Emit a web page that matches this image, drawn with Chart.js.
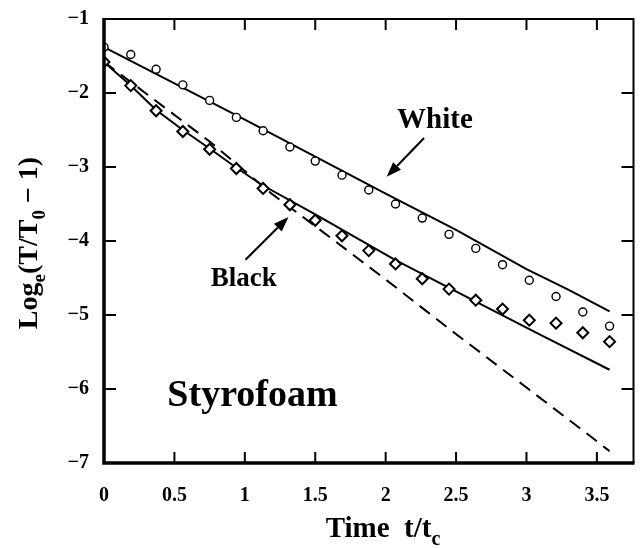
<!DOCTYPE html>
<html>
<head>
<meta charset="utf-8">
<script src="https://cdn.jsdelivr.net/npm/chart.js@4.4.1/dist/chart.umd.min.js"></script>
<style>
  html, body { margin: 0; padding: 0; background: #fff; }
  canvas { display: block; }
</style>
</head>
<body>
<canvas id="chart" width="641" height="548"></canvas>
<script>
// measured time points t/tc
const obsTime = [0, 0.19, 0.37, 0.56, 0.75, 0.94, 1.13, 1.32, 1.50, 1.69, 1.88, 2.07, 2.26, 2.45, 2.64, 2.83, 3.02, 3.21, 3.40, 3.59];
const whiteObs = [-1.38, -1.48, -1.68, -1.89, -2.10, -2.33, -2.51, -2.73, -2.92, -3.11, -3.31, -3.50, -3.69, -3.91, -4.10, -4.32, -4.53, -4.75, -4.96, -5.15];
const blackObs = [-1.58, -1.90, -2.24, -2.52, -2.76, -3.02, -3.29, -3.51, -3.72, -3.93, -4.13, -4.31, -4.51, -4.65, -4.80, -4.92, -5.07, -5.11, -5.24, -5.36];

// model curves
const whiteFitT = [0, 0.5, 1.0, 1.5, 2.0, 2.5, 3.0, 3.3, 3.59];
const whiteFitY = [-1.38, -1.87, -2.36, -2.86, -3.36, -3.85, -4.38, -4.66, -4.95];
const blackFitT = [0, 0.1, 0.19, 0.37, 0.56, 0.75, 0.94, 1.12, 1.5, 2.07, 2.64, 3.1, 3.59];
const blackFitY = [-1.58, -1.75, -1.90, -2.23, -2.50, -2.75, -3.01, -3.24, -3.64, -4.26, -4.82, -5.27, -5.74];
const dashT = [0, 0.35, 0.76, 1.19, 1.5, 2.0, 2.46, 3.0, 3.4, 3.59];
const dashY = [-1.58, -2.08, -2.67, -3.36, -3.80, -4.52, -5.20, -5.98, -6.56, -6.84];

const xTicks = [0, 0.5, 1, 1.5, 2, 2.5, 3, 3.5];
const yTicks = [-7, -6, -5, -4, -3, -2, -1];

const FONT = "'Liberation Serif', 'Times New Roman', serif";

const pts = (xs, ys) => xs.map((x, i) => ({x: x, y: ys[i]}));

function drawArrow(ctx, x1, y1, x2, y2) {
    const ang = Math.atan2(y2 - y1, x2 - x1);
    const hl = 15, hw = 5.5;
    ctx.beginPath();
    ctx.moveTo(x1, y1);
    ctx.lineTo(x2 - hl * Math.cos(ang), y2 - hl * Math.sin(ang));
    ctx.lineWidth = 2;
    ctx.stroke();
    ctx.beginPath();
    ctx.moveTo(x2, y2);
    ctx.lineTo(x2 - hl * Math.cos(ang) + hw * Math.sin(ang), y2 - hl * Math.sin(ang) - hw * Math.cos(ang));
    ctx.lineTo(x2 - hl * Math.cos(ang) - hw * Math.sin(ang), y2 - hl * Math.sin(ang) + hw * Math.cos(ang));
    ctx.closePath();
    ctx.fill();
}

// text made of pieces, some of them subscript; drawn centred on (0,0) baseline
function drawPieces(ctx, pieces, size) {
    const sub = Math.round(size * 0.68);
    let total = 0;
    pieces.forEach(p => {
        ctx.font = 'bold ' + (p[1] ? sub : size) + 'px ' + FONT;
        total += ctx.measureText(p[0]).width;
    });
    let x = -total / 2;
    ctx.textAlign = 'left';
    ctx.textBaseline = 'alphabetic';
    pieces.forEach(p => {
        ctx.font = 'bold ' + (p[1] ? sub : size) + 'px ' + FONT;
        ctx.fillText(p[0], x, p[1] ? size * 0.28 : 0);
        x += ctx.measureText(p[0]).width;
    });
}

const framePlugin = {
    id: 'frame',
    afterDraw(chart) {
        const ctx = chart.ctx;
        const a = chart.chartArea;
        const xs = chart.scales.x, ys = chart.scales.y;
        ctx.save();
        ctx.strokeStyle = '#000';
        ctx.fillStyle = '#000';
        ctx.lineCap = 'butt';

        // box
        ctx.lineWidth = 2;
        ctx.beginPath();
        ctx.moveTo(a.left, a.top); ctx.lineTo(a.right, a.top); ctx.lineTo(a.right, a.bottom);
        ctx.stroke();
        ctx.lineWidth = 3.5;
        ctx.beginPath();
        ctx.moveTo(a.left, a.top - 1); ctx.lineTo(a.left, a.bottom); ctx.lineTo(a.right + 1, a.bottom);
        ctx.stroke();

        // inward ticks on all four sides
        ctx.lineWidth = 2;
        xTicks.forEach(v => {
            const px = xs.getPixelForValue(v);
            ctx.beginPath();
            ctx.moveTo(px, a.bottom); ctx.lineTo(px, a.bottom - 11);
            ctx.moveTo(px, a.top); ctx.lineTo(px, a.top + 11);
            ctx.stroke();
        });
        yTicks.forEach(v => {
            const py = ys.getPixelForValue(v);
            ctx.beginPath();
            ctx.moveTo(a.left, py); ctx.lineTo(a.left + 12, py);
            ctx.moveTo(a.right, py); ctx.lineTo(a.right - 12, py);
            ctx.stroke();
        });

        // annotations
        ctx.textAlign = 'center';
        ctx.textBaseline = 'alphabetic';
        ctx.font = 'bold 29px ' + FONT;
        ctx.fillText('White', xs.getPixelForValue(2.35), ys.getPixelForValue(-2.475));
        drawArrow(ctx, xs.getPixelForValue(2.273), ys.getPixelForValue(-2.608),
                       xs.getPixelForValue(2.007), ys.getPixelForValue(-3.133));
        ctx.font = 'bold 27px ' + FONT;
        ctx.fillText('Black', xs.getPixelForValue(0.993), ys.getPixelForValue(-4.608));
        drawArrow(ctx, xs.getPixelForValue(1.005), ys.getPixelForValue(-4.253),
                       xs.getPixelForValue(1.31), ys.getPixelForValue(-3.675));
        ctx.textAlign = 'left';
        ctx.font = 'bold 38px ' + FONT;
        ctx.fillText('Styrofoam', xs.getPixelForValue(0.45), ys.getPixelForValue(-6.23));

        // axis titles
        ctx.save();
        ctx.translate(383, 537);
        drawPieces(ctx, [['Time  t/t', false], ['c', true]], 29);
        ctx.restore();
        ctx.save();
        ctx.translate(37, (a.top + a.bottom) / 2 + 2);
        ctx.rotate(-Math.PI / 2);
        drawPieces(ctx, [['Log', false], ['e', true], ['(T/T', false], ['0', true], [' \u2212 1)', false]], 28);
        ctx.restore();

        ctx.restore();
    }
};

new Chart(document.getElementById('chart'), {
    type: 'scatter',
    data: {
        datasets: [
            {
                label: 'White',
                data: pts(obsTime, whiteObs),
                pointStyle: 'circle',
                pointRadius: 4,
                pointBorderWidth: 1.4,
                borderColor: '#000',
                backgroundColor: '#fff',
                showLine: false
            },
            {
                label: 'Black',
                data: pts(obsTime, blackObs),
                pointStyle: 'rectRot',
                pointRadius: 5.5,
                pointBorderWidth: 2,
                borderColor: '#000',
                backgroundColor: '#fff',
                showLine: false
            },
            {
                label: 'White model',
                data: pts(whiteFitT, whiteFitY),
                showLine: true,
                pointRadius: 0,
                borderColor: '#000',
                borderWidth: 2,
                tension: 0
            },
            {
                label: 'Black model',
                data: pts(blackFitT, blackFitY),
                showLine: true,
                pointRadius: 0,
                borderColor: '#000',
                borderWidth: 2,
                tension: 0
            },
            {
                label: 'Black model (dashed)',
                data: pts(dashT, dashY),
                showLine: true,
                pointRadius: 0,
                borderColor: '#000',
                borderWidth: 2,
                borderDash: [13, 8],
                tension: 0
            }
        ]
    },
    options: {
        responsive: false,
        animation: false,
        layout: { padding: { top: 13, right: 3, left: 0, bottom: 0 } },
        plugins: {
            legend: { display: false },
            tooltip: { enabled: false }
        },
        scales: {
            x: {
                type: 'linear',
                min: 0,
                max: 3.76,
                grid: { display: false },
                border: { display: false },
                afterBuildTicks: (scale) => { scale.ticks = xTicks.map(v => ({value: v})); },
                afterFit: (scale) => { scale.height = 85; },
                ticks: {
                    color: '#000',
                    padding: 13,
                    maxRotation: 0,
                    font: { family: FONT, size: 20, weight: 'bold' },
                    callback: (v) => String(v)
                }
            },
            y: {
                min: -7,
                max: -1,
                grid: { display: false },
                border: { display: false },
                afterBuildTicks: (scale) => { scale.ticks = yTicks.map(v => ({value: v})); },
                afterFit: (scale) => { scale.width = 104; },
                ticks: {
                    color: '#000',
                    padding: 7,
                    font: { family: FONT, size: 20, weight: 'bold' },
                    callback: (v) => (v < 0 ? '\u2212' : '') + Math.abs(v)
                }
            }
        }
    },
    plugins: [framePlugin]
});
</script>
</body>
</html>
